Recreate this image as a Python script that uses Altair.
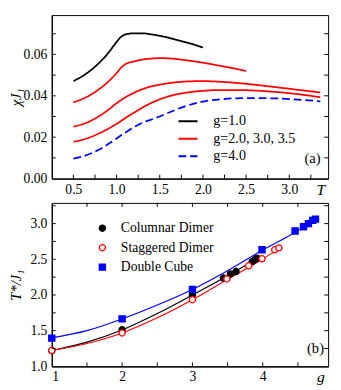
import altair as alt
import pandas as pd

# ---------------- Panel (a) data ----------------
T_g1 = [0.5, 0.6, 0.7, 0.8, 0.9, 1.0, 1.05, 1.1, 1.2, 1.3, 1.4, 1.5, 1.6, 1.7, 1.8, 1.9, 2.0]
chi_g1 = [0.0471, 0.0494, 0.0523, 0.0560, 0.0605, 0.0660, 0.0684, 0.0696, 0.0702, 0.0702,
          0.0697, 0.0690, 0.0681, 0.0670, 0.0659, 0.0647, 0.0633]
T_g2 = [0.5, 0.6, 0.7, 0.8, 0.9, 1.0, 1.05, 1.1, 1.2, 1.3, 1.4, 1.5, 1.6, 1.8, 2.0, 2.2, 2.4, 2.5]
chi_g2 = [0.0368, 0.0384, 0.0405, 0.0433, 0.0467, 0.0510, 0.0535, 0.0552, 0.0566, 0.0575,
          0.0580, 0.0582, 0.0581, 0.0572, 0.0560, 0.0545, 0.0529, 0.0520]
T_long = [0.5, 0.6, 0.7, 0.8, 0.9, 1.0, 1.1, 1.2, 1.3, 1.4, 1.5, 1.6, 1.8, 2.0, 2.2, 2.5, 2.8, 3.1, 3.36]
chi_g3 = [0.0251, 0.0262, 0.0279, 0.0302, 0.0331, 0.0364, 0.0392, 0.0414, 0.0432, 0.0445,
          0.0454, 0.0461, 0.0469, 0.0471, 0.0468, 0.0458, 0.0444, 0.0429, 0.0416]
chi_g35 = [0.0178, 0.0187, 0.0201, 0.0219, 0.0240, 0.0264, 0.0292, 0.0318, 0.0343, 0.0365,
           0.0383, 0.0397, 0.0415, 0.0424, 0.0428, 0.0427, 0.0420, 0.0408, 0.0393]
chi_g4 = [0.0096, 0.0106, 0.0121, 0.0141, 0.0166, 0.0194, 0.0222, 0.0248, 0.0270, 0.0285,
          0.0300, 0.0318, 0.0350, 0.0372, 0.0383, 0.0389, 0.0388, 0.0382, 0.0373]

legend_a = ["g=1.0", "g=2.0, 3.0, 3.5", "g=4.0"]
colors_a = ["#000000", "#ff0000", "#0000ff"]
dashes_a = [[1, 0], [1, 0], [8, 4]]

# ---------------- Panel (b) data ----------------
series_b = ["Columnar Dimer", "Staggered Dimer", "Double Cube"]
colors_b = ["#000000", "#ff0000", "#0000ff"]
fills_b = ["#000000", "#ffffff", "#0000ff"]
shapes_b = ["circle", "circle", "square"]

g_col = [1.0, 2.0, 3.0, 3.44, 3.54, 3.62, 3.85, 3.89, 3.92]
T_col = [1.222, 1.513, 2.0, 2.238, 2.295, 2.328, 2.468, 2.497, 2.516]
g_stag = [1.0, 2.0, 3.0, 3.49, 3.80, 3.99, 4.17, 4.23]
T_stag = [1.222, 1.468, 1.934, 2.225, 2.409, 2.507, 2.633, 2.660]
g_cube = [1.0, 2.0, 3.0, 3.99, 4.46, 4.58, 4.65, 4.71, 4.75]
T_cube = [1.396, 1.665, 2.077, 2.633, 2.897, 2.955, 3.0, 3.045, 3.063]

# fitted curves
gfit_col = [1.0, 1.5, 2.0, 2.5, 3.0, 3.5, 3.93]
Tfit_col = [1.222, 1.34, 1.51, 1.74, 2.0, 2.27, 2.515]
gfit_stag = [1.0, 1.5, 2.0, 2.5, 3.0, 3.5, 4.0, 4.25]
Tfit_stag = [1.222, 1.32, 1.468, 1.68, 1.934, 2.22, 2.505, 2.66]
gfit_cube = [1.0, 1.5, 2.0, 2.5, 3.0, 3.5, 4.0, 4.5, 4.75]
Tfit_cube = [1.40, 1.50, 1.665, 1.86, 2.078, 2.34, 2.63, 2.90, 3.06]

# tick positions
xt_a = [0.5, 0.75, 1.0, 1.25, 1.5, 1.75, 2.0, 2.25, 2.5, 2.75, 3.0, 3.25]
yt_a = [0.01, 0.02, 0.03, 0.04, 0.05, 0.06, 0.07]
xt_b = [1.5, 2.0, 2.5, 3.0, 3.5, 4.0, 4.5]
yt_b = [1.25, 1.5, 1.75, 2.0, 2.25, 2.5, 2.75, 3.0, 3.25]

W, H = 284, 168
SP = 25
FONT = "Liberation Serif"
TL = 4

# ---------- build panel (a) ----------
rows = []
for T, c in zip(T_g1, chi_g1):
    rows.append(dict(T=T, chi=c, series="g1", leg=legend_a[0]))
for T, c in zip(T_g2, chi_g2):
    rows.append(dict(T=T, chi=c, series="g2", leg=legend_a[1]))
for T, c in zip(T_long, chi_g3):
    rows.append(dict(T=T, chi=c, series="g3", leg=legend_a[1]))
for T, c in zip(T_long, chi_g35):
    rows.append(dict(T=T, chi=c, series="g35", leg=legend_a[1]))
for T, c in zip(T_long, chi_g4):
    rows.append(dict(T=T, chi=c, series="g4", leg=legend_a[2]))
df_a = pd.DataFrame(rows)

xs_a = alt.Scale(domain=[0.25, 3.45], nice=False, zero=False)
ys_a = alt.Scale(domain=[0.0, 0.079], nice=False, zero=False)

xax_a = alt.Axis(values=[0.5, 1.0, 1.5, 2.0, 2.5, 3.0], format=".1f", ticks=False, grid=False,
                 labelPadding=4, labelFont=FONT, labelFontSize=14,
                 title="T", titleFont=FONT, titleX=276, titleY=3, titleBaseline="top",
                 titleAlign="center", titleFontStyle="italic", titleFontSize=16,
                 titleFontWeight="normal")
yax_a = alt.Axis(values=[0.0, 0.02, 0.04, 0.06], format=".2f", ticks=False, grid=False,
                 labelPadding=5, labelFont=FONT, labelFontSize=14,
                 title="χJ₁", titleFont=FONT, titleX=-37, titleY=H / 2, titleAngle=270,
                 titleBaseline="middle", titleAlign="center", titleFontStyle="italic",
                 titleFontSize=15, titleFontWeight="normal")

leg_a = alt.Legend(title=None, orient="none", legendX=129, legendY=98, symbolType="stroke",
                   symbolSize=380, symbolStrokeWidth=2, labelFont=FONT, labelFontSize=14.5,
                   labelOffset=15, rowPadding=-1, padding=0)

lines_a = alt.Chart(df_a).mark_line(strokeWidth=1.8, interpolate="monotone").encode(
    x=alt.X("T:Q", scale=xs_a, axis=xax_a),
    y=alt.Y("chi:Q", scale=ys_a, axis=yax_a),
    color=alt.Color("leg:N", scale=alt.Scale(domain=legend_a, range=colors_a), legend=leg_a),
    strokeDash=alt.StrokeDash("leg:N", scale=alt.Scale(domain=legend_a, range=dashes_a), legend=leg_a),
    detail="series:N",
)

dfx_a = pd.DataFrame({"T": xt_a})
dfy_a = pd.DataFrame({"chi": yt_a})
tick_bot_a = alt.Chart(dfx_a).mark_rule(color="black", strokeWidth=1).encode(
    x=alt.X("T:Q", scale=xs_a, axis=xax_a), y=alt.value(H), y2=alt.value(H - TL))
tick_left_a = alt.Chart(dfy_a).mark_rule(color="black", strokeWidth=1).encode(
    y=alt.Y("chi:Q", scale=ys_a, axis=yax_a), x=alt.value(0), x2=alt.value(TL))
tick_right_a = alt.Chart(dfy_a).mark_rule(color="black", strokeWidth=1).encode(
    y=alt.Y("chi:Q", scale=ys_a, axis=yax_a), x=alt.value(W - TL), x2=alt.value(W))
label_a = alt.Chart(pd.DataFrame({"t": ["(a)"]})).mark_text(
    font=FONT, fontSize=15, align="center", baseline="middle").encode(
    text="t:N", x=alt.value(268), y=alt.value(147))

panel_a = alt.layer(lines_a, tick_bot_a, tick_left_a, tick_right_a, label_a).properties(
    width=W, height=H)

# ---------- build panel (b) ----------
pts = []
for g, t in zip(g_col, T_col):
    pts.append(dict(g=g, Ts=t, s=series_b[0]))
for g, t in zip(g_stag, T_stag):
    pts.append(dict(g=g, Ts=t, s=series_b[1]))
for g, t in zip(g_cube, T_cube):
    pts.append(dict(g=g, Ts=t, s=series_b[2]))
df_pts = pd.DataFrame(pts)

fits = []
for g, t in zip(gfit_col, Tfit_col):
    fits.append(dict(g=g, Ts=t, s=series_b[0]))
for g, t in zip(gfit_stag, Tfit_stag):
    fits.append(dict(g=g, Ts=t, s=series_b[1]))
for g, t in zip(gfit_cube, Tfit_cube):
    fits.append(dict(g=g, Ts=t, s=series_b[2]))
df_fit = pd.DataFrame(fits)

xs_b = alt.Scale(domain=[1.0, 4.93], nice=False, zero=False)
ys_b = alt.Scale(domain=[1.0, 3.29], nice=False, zero=False)
xax_b = alt.Axis(values=[1, 2, 3, 4], format="d", ticks=False, grid=False, labelPadding=4,
                 labelFont=FONT, labelFontSize=14,
                 title="g", titleFont=FONT, titleX=276, titleY=3, titleBaseline="top",
                 titleAlign="center", titleFontStyle="italic", titleFontSize=16,
                 titleFontWeight="normal")
yax_b = alt.Axis(values=[1.0, 1.5, 2.0, 2.5, 3.0], format=".1f", ticks=False, grid=False,
                 labelPadding=5, labelFont=FONT, labelFontSize=14,
                 title="T*/J₁", titleFont=FONT, titleX=-37, titleY=H / 2, titleAngle=270,
                 titleBaseline="middle", titleAlign="center", titleFontStyle="italic",
                 titleFontSize=15, titleFontWeight="normal")

line_layers = []
for name, col in zip(series_b, colors_b):
    line_layers.append(
        alt.Chart(df_fit).transform_filter(alt.datum.s == name).mark_line(
            strokeWidth=1.2, interpolate="monotone", color=col).encode(
            x=alt.X("g:Q", scale=xs_b, axis=xax_b),
            y=alt.Y("Ts:Q", scale=ys_b, axis=yax_b),
        )
    )

# legends in a concat are placed relative to the whole chart, so offset by panel (a)
leg_b = alt.Legend(title=None, orient="none", legendX=45, legendY=H + SP + 19, symbolSize=40,
                   symbolStrokeWidth=1.3, labelFont=FONT, labelFontSize=14, labelOffset=12,
                   rowPadding=6, padding=0)
points_b = alt.Chart(df_pts).mark_point(size=40, strokeWidth=1.3, opacity=1, fillOpacity=1).encode(
    x=alt.X("g:Q", scale=xs_b, axis=xax_b),
    y=alt.Y("Ts:Q", scale=ys_b, axis=yax_b),
    stroke=alt.Stroke("s:N", scale=alt.Scale(domain=series_b, range=colors_b), legend=leg_b),
    fill=alt.Fill("s:N", scale=alt.Scale(domain=series_b, range=fills_b), legend=leg_b),
    shape=alt.Shape("s:N", scale=alt.Scale(domain=series_b, range=shapes_b), legend=leg_b),
)

dfx_b = pd.DataFrame({"g": xt_b})
dfy_b = pd.DataFrame({"Ts": yt_b})
tick_bot_b = alt.Chart(dfx_b).mark_rule(color="black", strokeWidth=1).encode(
    x=alt.X("g:Q", scale=xs_b, axis=xax_b), y=alt.value(H), y2=alt.value(H - TL))
tick_top_b = alt.Chart(dfx_b).mark_rule(color="black", strokeWidth=1).encode(
    x=alt.X("g:Q", scale=xs_b, axis=xax_b), y=alt.value(0), y2=alt.value(TL))
tick_left_b = alt.Chart(dfy_b).mark_rule(color="black", strokeWidth=1).encode(
    y=alt.Y("Ts:Q", scale=ys_b, axis=yax_b), x=alt.value(0), x2=alt.value(TL))
tick_right_b = alt.Chart(dfy_b).mark_rule(color="black", strokeWidth=1).encode(
    y=alt.Y("Ts:Q", scale=ys_b, axis=yax_b), x=alt.value(W - TL), x2=alt.value(W))
label_b = alt.Chart(pd.DataFrame({"t": ["(b)"]})).mark_text(
    font=FONT, fontSize=15, align="center", baseline="middle").encode(
    text="t:N", x=alt.value(271), y=alt.value(149))

panel_b = alt.layer(*line_layers, points_b, tick_bot_b, tick_top_b, tick_left_b, tick_right_b,
                    label_b).properties(width=W, height=H)

chart = alt.vconcat(panel_a, panel_b, spacing=SP, bounds="flush").properties(
    padding={"left": 0, "top": 1, "right": 4, "bottom": 0}
).configure_view(stroke="black", strokeWidth=1).configure_axis(
    labelFont=FONT, titleFont=FONT, labelFontSize=14, labelColor="black", titleColor="black",
    domainColor="black", domainWidth=1.2
).configure_legend(labelFont=FONT, labelColor="black").configure_text(font=FONT)

chart.save("out.html", embed_options={"renderer": "svg", "actions": False})
